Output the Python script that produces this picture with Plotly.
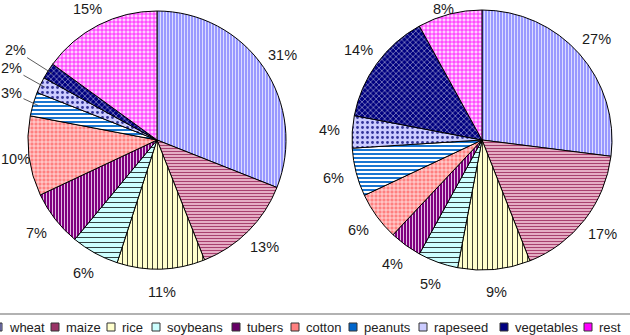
import math
import plotly.graph_objects as go

categories = ["wheat", "maize", "rice", "soybeans", "tubers", "cotton",
              "peanuts", "rapeseed", "vegetables", "rest"]
values_left = [31, 13, 11, 6, 7, 10, 3, 2, 2, 15]
values_right = [27, 17, 9, 5, 4, 6, 6, 4, 14, 8]

# styles
bg_colors = ["#9999FF", "#F2C4D6", "#FFFFCC", "#CCFFFF", "#800080",
             "#FF8080", "#FFFFFF", "#CCCCFF", "#000080", "#FFD0FF"]
fg_colors = ["#E4E4FF", "#A8406E", "#000000", "#000000", "#F0D0F0",
             "#FFFFFF", "#0066CC", "#333399", "#FFFFFF", "#FF00FF"]
shapes_p = ["|", "-", "|", "-", "|", "+", "-", ".", "x", "+"]
sizes_p = [3, 3, 5, 5, 3, 4, 4, 5, 4, 4]
solid_p = [0.3, 0.45, 0.15, 0.15, 0.3, 0.3, 0.45, 0.25, 0.2, 0.35]
legend_colors = ["#9999FF", "#993366", "#FFFFCC", "#CCFFFF", "#660066",
                 "#FF8080", "#0066CC", "#CCCCFF", "#000080", "#FF00FF"]
legend_marker_x = [-6, 51, 107, 152, 232, 291, 349, 419, 500, 584]

W, H = 630, 335
FONT = "Liberation Sans, Arial, sans-serif"
LABEL_SIZE = 14.5
TEXT_COLOR = "#1a1a1a"


def px_dom(cx, cy, r):
    return ([(cx - r) / W, (cx + r) / W],
            [(H - cy - r) / H, (H - cy + r) / H])


def make_pie(vals, cx, cy, r):
    dx, dy = px_dom(cx, cy, r)
    return go.Pie(
        labels=categories, values=vals, sort=False, direction="clockwise",
        rotation=0, domain=dict(x=dx, y=dy),
        textinfo="none",
        marker=dict(
            colors=bg_colors,
            line=dict(color="#000000", width=1),
            pattern=dict(shape=shapes_p, fgcolor=fg_colors, bgcolor=bg_colors,
                         size=sizes_p, solidity=solid_p, fillmode="replace"),
        ),
        showlegend=False, hoverinfo="label+percent",
    )


def pie_label_annotations(vals, cx, cy, r):
    """Percent labels placed just outside each slice (leader lines for tiny slices)."""
    out = []
    total = float(sum(vals))
    cum = 0.0
    for v in vals:
        frac = v / total
        mid = (cum + frac / 2.0) * 2 * math.pi
        cum += frac
        ux, uy = math.sin(mid), -math.cos(mid)
        txt = f"{round(frac * 100)}%"
        nd = len(txt) - 1
        w = LABEL_SIZE * (0.556 * nd + 0.889)
        h = LABEL_SIZE * 1.05
        small = frac < 0.035
        dist = r + (39 if small else 23)
        tx = min(max(cx + ux * dist, w / 2 + 1), W - w / 2 - 1)
        ty = min(max(cy + uy * dist, h / 2 + 1), H - h / 2 - 1)
        font = dict(family=FONT, size=LABEL_SIZE, color=TEXT_COLOR)
        if small:
            px_, py_ = cx + ux * r * 0.96, cy + uy * r * 0.96
            out.append(dict(text=txt, xref="paper", yref="paper",
                            x=px_ / W, y=(H - py_) / H,
                            ax=tx - px_, ay=ty - py_,
                            showarrow=True, arrowhead=0, arrowwidth=0.8,
                            arrowcolor="#333333", standoff=0, font=font))
        else:
            out.append(dict(text=txt, xref="paper", yref="paper",
                            x=tx / W, y=(H - ty) / H,
                            xanchor="center", yanchor="middle",
                            showarrow=False, font=font))
    return out


LEFT = (157, 140, 129)
RIGHT = (482, 140, 130)

fig = go.Figure([make_pie(values_left, *LEFT), make_pie(values_right, *RIGHT)])

annotations = pie_label_annotations(values_left, *LEFT) + \
    pie_label_annotations(values_right, *RIGHT)

shapes = [dict(type="line", xref="paper", yref="paper", x0=0, x1=1,
               y0=(H - 314) / H, y1=(H - 314) / H,
               line=dict(color="#999999", width=1.5))]
yc = 327
for cat, col, mx in zip(categories, legend_colors, legend_marker_x):
    shapes.append(dict(type="rect", xref="paper", yref="paper",
                       x0=max(mx, 0) / W, x1=(mx + 8) / W,
                       y0=(H - yc - 4) / H, y1=(H - yc + 4) / H,
                       fillcolor=col, line=dict(color="#333333", width=1)))
    annotations.append(dict(text=cat, xref="paper", yref="paper",
                            x=(mx + 13) / W, y=(H - yc) / H,
                            xanchor="left", yanchor="middle", showarrow=False,
                            font=dict(family=FONT, size=13, color="#222222")))

fig.update_layout(
    width=W, height=H, margin=dict(l=0, r=0, t=0, b=0),
    paper_bgcolor="white", plot_bgcolor="white",
    shapes=shapes, annotations=annotations,
    font=dict(family=FONT),
)

fig.write_html("out.html",
               post_script="document.body.style.margin='0';document.body.style.overflow='hidden';")
